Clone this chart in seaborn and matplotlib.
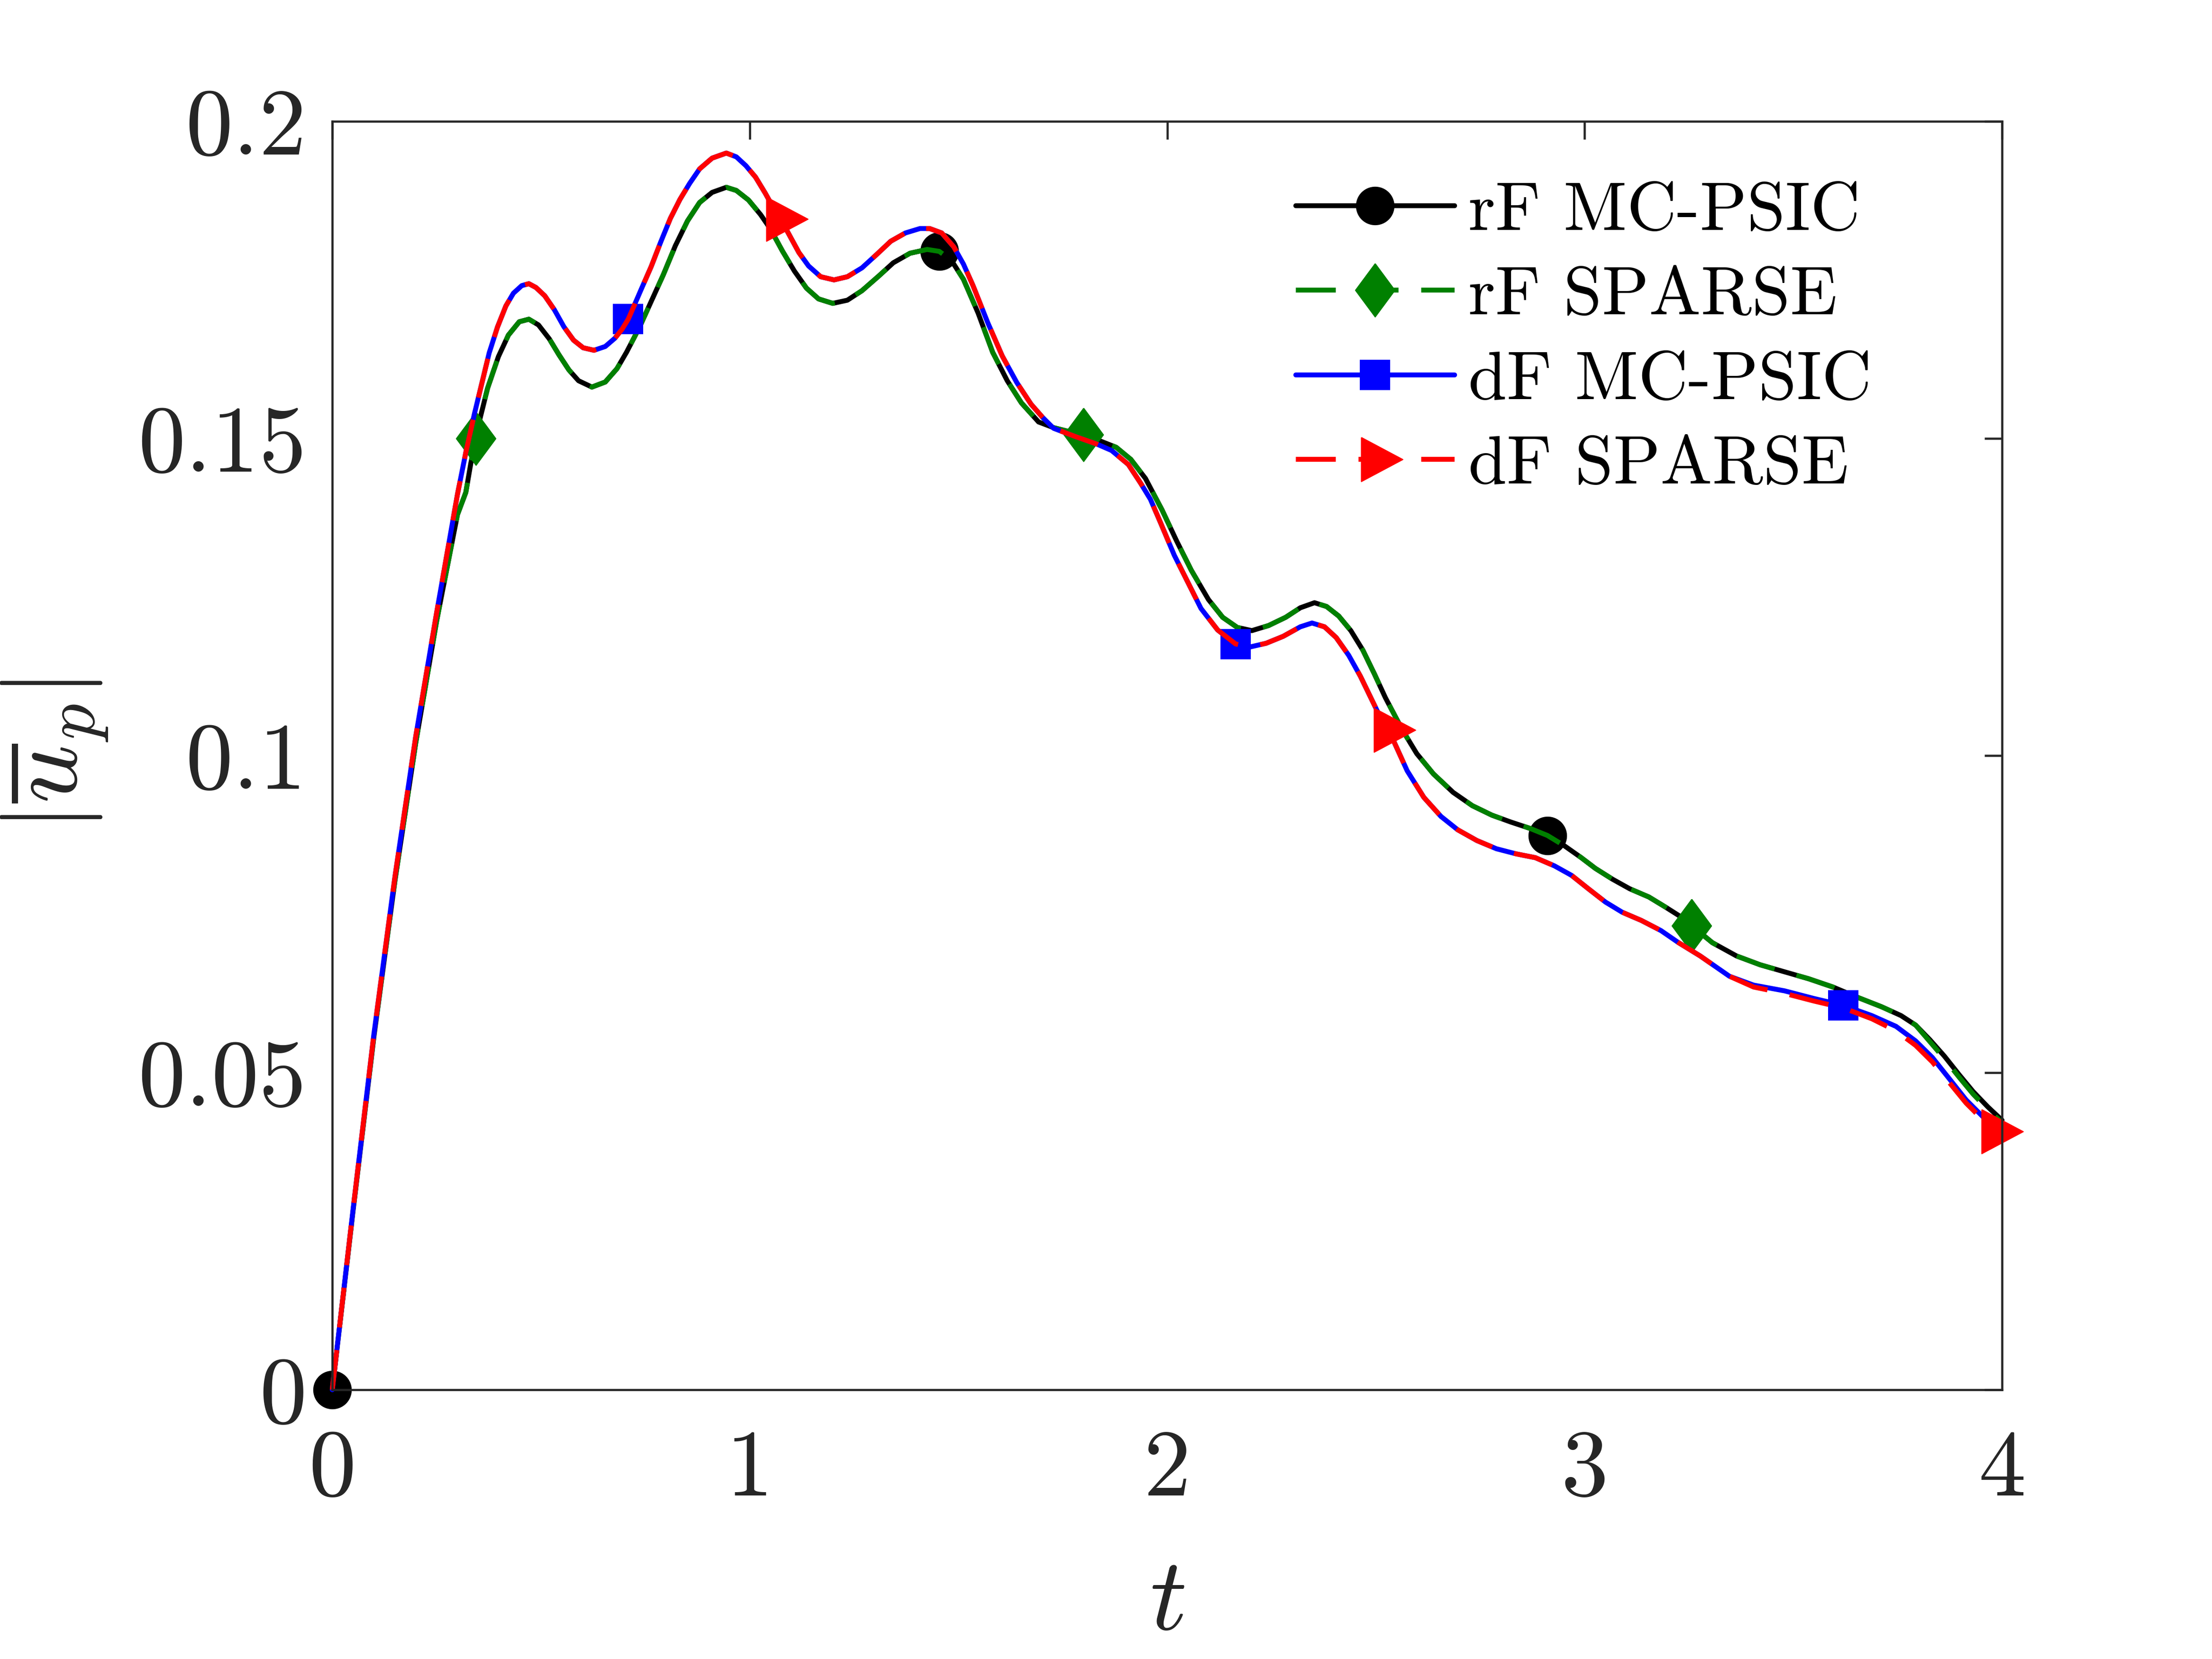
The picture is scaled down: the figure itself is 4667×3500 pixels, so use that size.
import numpy as np
import pandas as pd
import matplotlib
matplotlib.use("Agg")
import matplotlib.pyplot as plt
import seaborn as sns

# ---------------- data ----------------
t_rf = [0.000, 0.050, 0.100, 0.150, 0.200, 0.250, 0.300, 0.320, 0.332, 0.344,
        0.352, 0.372, 0.398, 0.422, 0.448, 0.471, 0.494, 0.520, 0.543, 0.567,
        0.590, 0.622, 0.654, 0.682, 0.705, 0.735, 0.764, 0.793, 0.822, 0.851,
        0.880, 0.910, 0.944, 0.968, 0.997, 1.026, 1.049, 1.078, 1.107, 1.136,
        1.165, 1.199, 1.234, 1.269, 1.309, 1.344, 1.384, 1.425, 1.454, 1.483,
        1.512, 1.547, 1.582, 1.617, 1.651, 1.692, 1.728, 1.764, 1.800, 1.832,
        1.878, 1.913, 1.948, 1.988, 2.023, 2.058, 2.099, 2.133, 2.168, 2.203,
        2.243, 2.284, 2.319, 2.353, 2.382, 2.411, 2.440, 2.469, 2.497, 2.523,
        2.563, 2.598, 2.638, 2.685, 2.731, 2.778, 2.824, 2.870, 2.911, 2.951,
        2.992, 3.026, 3.067, 3.108, 3.154, 3.194, 3.230, 3.256, 3.306, 3.364,
        3.421, 3.479, 3.537, 3.595, 3.653, 3.711, 3.758, 3.793, 3.827, 3.862,
        3.897, 3.931, 3.966, 4.000]

rf_mcpsic = [0.0000, 0.0283, 0.0558, 0.0802, 0.1020, 0.1212, 0.1380, 0.1415, 0.1461, 0.1500,
             0.1526, 0.1579, 0.1629, 0.1663, 0.1684, 0.1688, 0.1679, 0.1657, 0.1632, 0.1608,
             0.1591, 0.1581, 0.1589, 0.1610, 0.1636, 0.1674, 0.1716, 0.1758, 0.1804, 0.1843,
             0.1872, 0.1888, 0.1896, 0.1891, 0.1876, 0.1853, 0.1831, 0.1796, 0.1764, 0.1737,
             0.1720, 0.1713, 0.1718, 0.1733, 0.1756, 0.1777, 0.1792, 0.1798, 0.1795, 0.1781,
             0.1751, 0.1698, 0.1636, 0.1591, 0.1556, 0.1526, 0.1517, 0.1511, 0.1506, 0.1498,
             0.1486, 0.1467, 0.1437, 0.1387, 0.1338, 0.1292, 0.1246, 0.1218, 0.1202, 0.1197,
             0.1205, 0.1218, 0.1233, 0.1241, 0.1235, 0.1220, 0.1197, 0.1166, 0.1128, 0.1091,
             0.1041, 0.1003, 0.0971, 0.0942, 0.0921, 0.0906, 0.0895, 0.0885, 0.0874, 0.0858,
             0.0839, 0.0822, 0.0805, 0.0790, 0.0777, 0.0761, 0.0746, 0.0732, 0.0705, 0.0684,
             0.0670, 0.0659, 0.0648, 0.0635, 0.0619, 0.0604, 0.0590, 0.0575, 0.0552, 0.0526,
             0.0497, 0.0470, 0.0446, 0.0425]

rf_sparse = [0.0000, 0.0283, 0.0558, 0.0802, 0.1020, 0.1212, 0.1380, 0.1415, 0.1461, 0.1500,
             0.1526, 0.1579, 0.1629, 0.1663, 0.1684, 0.1688, 0.1679, 0.1657, 0.1632, 0.1608,
             0.1591, 0.1581, 0.1589, 0.1610, 0.1636, 0.1674, 0.1716, 0.1758, 0.1804, 0.1843,
             0.1872, 0.1888, 0.1896, 0.1891, 0.1876, 0.1853, 0.1831, 0.1796, 0.1764, 0.1737,
             0.1720, 0.1713, 0.1718, 0.1733, 0.1756, 0.1777, 0.1792, 0.1798, 0.1795, 0.1781,
             0.1751, 0.1698, 0.1636, 0.1591, 0.1556, 0.1526, 0.1517, 0.1511, 0.1506, 0.1498,
             0.1486, 0.1467, 0.1437, 0.1387, 0.1338, 0.1292, 0.1246, 0.1218, 0.1202, 0.1197,
             0.1205, 0.1218, 0.1233, 0.1241, 0.1235, 0.1220, 0.1197, 0.1166, 0.1128, 0.1091,
             0.1041, 0.1003, 0.0971, 0.0942, 0.0921, 0.0906, 0.0895, 0.0885, 0.0874, 0.0858,
             0.0839, 0.0822, 0.0805, 0.0790, 0.0777, 0.0761, 0.0746, 0.0732, 0.0705, 0.0684,
             0.0670, 0.0659, 0.0648, 0.0635, 0.0619, 0.0604, 0.0590, 0.0575, 0.0549, 0.0522,
             0.0493, 0.0466, 0.0442, 0.0421]

t_df = [0.000, 0.050, 0.100, 0.150, 0.200, 0.250, 0.300, 0.320, 0.341, 0.358,
        0.376, 0.396, 0.416, 0.434, 0.454, 0.471, 0.488, 0.509, 0.532, 0.555,
        0.578, 0.601, 0.627, 0.654, 0.677, 0.694, 0.709, 0.717, 0.740, 0.764,
        0.787, 0.810, 0.833, 0.856, 0.880, 0.910, 0.944, 0.968, 0.991, 1.014,
        1.037, 1.060, 1.073, 1.089, 1.118, 1.141, 1.170, 1.202, 1.234, 1.269,
        1.304, 1.338, 1.373, 1.408, 1.431, 1.460, 1.489, 1.512, 1.535, 1.570,
        1.605, 1.640, 1.674, 1.702, 1.728, 1.780, 1.832, 1.867, 1.907, 1.936,
        1.960, 1.983, 2.017, 2.046, 2.081, 2.121, 2.164, 2.197, 2.237, 2.278,
        2.319, 2.347, 2.377, 2.405, 2.435, 2.463, 2.505, 2.528, 2.544, 2.575,
        2.615, 2.656, 2.696, 2.742, 2.789, 2.836, 2.882, 2.928, 2.969, 3.009,
        3.050, 3.090, 3.136, 3.183, 3.225, 3.277, 3.347, 3.405, 3.479, 3.549,
        3.620, 3.688, 3.746, 3.793, 3.833, 3.873, 3.914, 3.955, 3.984, 4.000]

df_mcpsic = [0.0000, 0.0285, 0.0562, 0.0808, 0.1030, 0.1225, 0.1412, 0.1478, 0.1540, 0.1586,
             0.1635, 0.1676, 0.1709, 0.1729, 0.1741, 0.1744, 0.1738, 0.1725, 0.1703, 0.1676,
             0.1655, 0.1643, 0.1639, 0.1645, 0.1658, 0.1672, 0.1688, 0.1700, 0.1735, 0.1771,
             0.1810, 0.1847, 0.1877, 0.1902, 0.1925, 0.1942, 0.1950, 0.1944, 0.1930, 0.1912,
             0.1887, 0.1860, 0.1846, 0.1828, 0.1793, 0.1772, 0.1755, 0.1750, 0.1755, 0.1769,
             0.1790, 0.1811, 0.1824, 0.1831, 0.1831, 0.1824, 0.1802, 0.1775, 0.1741, 0.1683,
             0.1630, 0.1588, 0.1554, 0.1533, 0.1516, 0.1503, 0.1491, 0.1481, 0.1459, 0.1430,
             0.1404, 0.1369, 0.1316, 0.1278, 0.1232, 0.1198, 0.1176, 0.1171, 0.1177, 0.1188,
             0.1203, 0.1209, 0.1203, 0.1186, 0.1158, 0.1125, 0.1068, 0.1040, 0.1021, 0.0976,
             0.0934, 0.0904, 0.0883, 0.0866, 0.0853, 0.0845, 0.0839, 0.0826, 0.0811, 0.0790,
             0.0769, 0.0753, 0.0740, 0.0724, 0.0705, 0.0684, 0.0652, 0.0638, 0.0629, 0.0617,
             0.0606, 0.0590, 0.0573, 0.0550, 0.0524, 0.0491, 0.0457, 0.0430, 0.0417, 0.0411]

df_sparse = [0.0000, 0.0285, 0.0562, 0.0808, 0.1030, 0.1225, 0.1412, 0.1478, 0.1540, 0.1586,
             0.1635, 0.1676, 0.1709, 0.1729, 0.1741, 0.1744, 0.1738, 0.1725, 0.1703, 0.1676,
             0.1655, 0.1643, 0.1639, 0.1645, 0.1658, 0.1672, 0.1688, 0.1700, 0.1735, 0.1771,
             0.1810, 0.1847, 0.1877, 0.1902, 0.1925, 0.1942, 0.1950, 0.1944, 0.1930, 0.1912,
             0.1887, 0.1860, 0.1846, 0.1828, 0.1793, 0.1772, 0.1755, 0.1750, 0.1755, 0.1769,
             0.1790, 0.1811, 0.1824, 0.1831, 0.1831, 0.1824, 0.1802, 0.1775, 0.1741, 0.1683,
             0.1630, 0.1588, 0.1554, 0.1533, 0.1516, 0.1503, 0.1491, 0.1481, 0.1459, 0.1430,
             0.1404, 0.1369, 0.1316, 0.1278, 0.1232, 0.1198, 0.1176, 0.1171, 0.1177, 0.1188,
             0.1203, 0.1209, 0.1203, 0.1186, 0.1158, 0.1125, 0.1068, 0.1040, 0.1021, 0.0976,
             0.0934, 0.0904, 0.0883, 0.0866, 0.0853, 0.0845, 0.0839, 0.0826, 0.0811, 0.0790,
             0.0769, 0.0753, 0.0740, 0.0724, 0.0705, 0.0684, 0.0652, 0.0635, 0.0625, 0.0613,
             0.0602, 0.0585, 0.0566, 0.0543, 0.0517, 0.0485, 0.0452, 0.0425, 0.0407, 0.0401]

# times at which markers sit
marks_rf_mcpsic = [0.000, 1.454, 2.911]
marks_rf_sparse = [0.344, 1.800, 3.256]
marks_df_mcpsic = [0.709, 2.164, 3.620]
marks_df_sparse = [1.073, 2.528, 3.984]

series_labels = ["rF MC-PSIC", "rF SPARSE", "dF MC-PSIC", "dF SPARSE"]
x_ticks = [0, 1, 2, 3, 4]
x_tick_labels = ["0", "1", "2", "3", "4"]
y_ticks = [0, 0.05, 0.1, 0.15, 0.2]
y_tick_labels = ["0", "0.05", "0.1", "0.15", "0.2"]

# ---------------- style ----------------
sns.set_theme(style="white")
plt.rcParams["font.family"] = ["cmr10", "DejaVu Serif"]
plt.rcParams["mathtext.fontset"] = "cm"
plt.rcParams["axes.formatter.use_mathtext"] = True
plt.rcParams["axes.unicode_minus"] = False

W, H = 4667, 3500
DPI = 300
fig = plt.figure(figsize=(W / DPI, H / DPI), dpi=DPI)
fig.patch.set_facecolor("white")
ax = fig.add_axes([701 / W, 1 - 2932 / H, 3523 / W, 2676 / H])
ax.set_facecolor("white")

diamond = [(0, 1), (0.74, 0), (0, -1), (-0.74, 0), (0, 1)]
tri_right = [(-0.313, 0.5), (0.627, 0.0), (-0.313, -0.5), (-0.313, 0.5)]

LW = 2.5
dash = (0, (8.1, 4.6))
specs = [
    (t_rf, rf_mcpsic, marks_rf_mcpsic, "#000000", "-", "o", 19),
    (t_rf, rf_sparse, marks_rf_sparse, "#008000", dash, diamond, 27),
    (t_df, df_mcpsic, marks_df_mcpsic, "#0000FF", "-", "s", 15),
    (t_df, df_sparse, marks_df_sparse, "#FF0000", dash, tri_right, 28),
]

for (t, y, marks, col, ls, mk, ms), lab in zip(specs, series_labels):
    tt = np.asarray(t)
    idx = [int(np.argmin(np.abs(tt - m))) for m in marks]
    data = pd.DataFrame({"t": t, "u": y})
    sns.lineplot(data=data, x="t", y="u", ax=ax, estimator=None, sort=False,
                 color=col, linestyle=ls, linewidth=LW, marker=mk, markersize=ms,
                 markevery=idx, markerfacecolor=col, markeredgecolor=col,
                 markeredgewidth=0.5, label=lab, clip_on=False)

ax.set_xlim(0, 4)
ax.set_ylim(0, 0.2)
ax.set_xticks(x_ticks)
ax.set_xticklabels(x_tick_labels)
ax.set_yticks(y_ticks)
ax.set_yticklabels(y_tick_labels)

axis_col = "#262626"
for sp in ax.spines.values():
    sp.set_visible(True)
    sp.set_color(axis_col)
    sp.set_linewidth(1.1)
ax.tick_params(axis="both", which="major", direction="in", length=9, width=1.1,
               top=True, right=True, color=axis_col, labelcolor=axis_col,
               labelsize=48)
ax.tick_params(axis="x", pad=20)
ax.tick_params(axis="y", pad=13)

ax.set_xlabel(r"$t$", fontsize=52, color=axis_col)
ax.set_ylabel(r"$|\overline{u}_p|$", fontsize=52, color=axis_col)
ax.xaxis.set_label_coords(0.5, -0.133)
ax.yaxis.set_label_coords(-0.1328, 0.5)

leg = ax.legend(loc="upper left", bbox_to_anchor=(0.577, 0.9525), frameon=False,
                fontsize=35, handlelength=2.3, handletextpad=0.2,
                labelspacing=0.33, borderpad=0, borderaxespad=0)
for txt in leg.get_texts():
    txt.set_color("black")

fig.savefig("out.png", dpi=DPI, facecolor="white")
